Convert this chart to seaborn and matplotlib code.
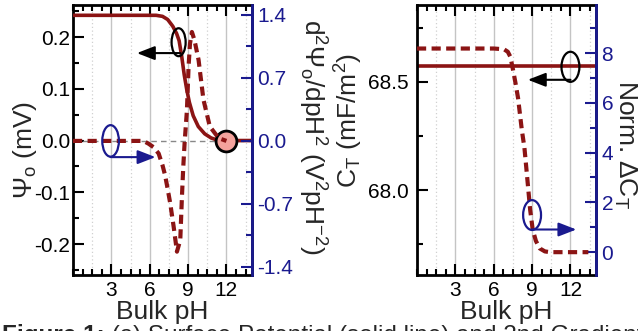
import matplotlib
matplotlib.use("Agg")
import matplotlib.pyplot as plt
import seaborn as sns
from matplotlib.patches import Ellipse
from matplotlib.ticker import MultipleLocator, FixedLocator, FormatStrFormatter

# (a) surface potential (solid) vs bulk pH
psi_ph = [0, 3, 6.5, 7.0, 7.4, 7.8, 8.1, 8.3, 8.5, 8.7, 8.9, 9.1, 9.4, 9.8, 10.3, 10.8, 11.4, 12, 14]
psi_mv = [0.242, 0.242, 0.242, 0.240, 0.234, 0.221, 0.207, 0.193, 0.163, 0.127, 0.098,
          0.074, 0.048, 0.027, 0.013, 0.005, 0.0, 0.0, 0.0]

# (a) 2nd gradient of surface potential (dashed)
d2_ph = [0, 5.5, 5.9, 6.3, 6.7, 7.0, 7.2, 7.4, 7.6, 7.87, 8.13, 8.39, 8.52, 8.62, 8.73,
         8.91, 9.04, 9.15, 9.3, 9.5, 9.82, 10.2, 10.7, 11.4, 12.0]
d2_psi = [0, 0, -0.03, -0.07, -0.14, -0.27, -0.38, -0.53, -0.69, -0.95, -1.23, -1.1, -0.62,
          -0.3, -0.02, 0.34, 0.83, 1.08, 1.21, 1.12, 0.9, 0.46, 0.16, 0.03, 0.0]

# (b) total capacitance (solid) and normalised change (dashed)
ct_ph = [0, 14]
ct_val = [68.575, 68.575]
dct_ph = [0, 6.0, 6.8, 7.1, 7.3, 7.5, 7.7, 7.9, 8.2, 8.4, 8.6, 8.85, 9.05, 9.3, 9.6, 10.0, 10.4, 13.4]
dct_val = [8.18, 8.18, 8.15, 8.05, 7.85, 7.35, 6.8, 6.2, 4.9, 4.2, 3.1, 1.7, 0.9, 0.45, 0.15,
           0.03, 0.0, 0.0]

RED = "#8b1414"
BLUE = "#1a1a8f"

sns.set_theme(style="white")
plt.rcParams["font.family"] = ["Liberation Sans", "DejaVu Sans"]
plt.rcParams["mathtext.fontset"] = "custom"
plt.rcParams["mathtext.rm"] = "Liberation Sans"
plt.rcParams["mathtext.it"] = "Liberation Sans:italic"
plt.rcParams["mathtext.default"] = "regular"
plt.rcParams["axes.unicode_minus"] = False

fig = plt.figure(figsize=(6.38, 3.31), dpi=100)
ax1 = fig.add_axes([0.1144, 0.169, 0.2806, 0.816])
ax2 = ax1.twinx()
ax3 = fig.add_axes([0.6536, 0.169, 0.2806, 0.816])
ax4 = ax3.twinx()


def style(ax, axr, lpad):
    ax.set_xlim(0, 14)
    ax.xaxis.set_major_locator(FixedLocator([3, 6, 9, 12]))
    ax.xaxis.set_minor_locator(MultipleLocator(0.75))
    ax.tick_params(which="both", direction="in", top=True, bottom=True, left=True,
                   right=False, colors="black", width=1.5, labelsize=15)
    ax.tick_params(axis="x", pad=4)
    ax.tick_params(axis="y", pad=lpad)
    ax.tick_params(which="major", length=8)
    ax.tick_params(which="minor", length=4)
    for sp in ax.spines.values():
        sp.set_linewidth(2)
        sp.set_color("black")
    axr.spines["right"].set_color(BLUE)
    axr.spines["right"].set_linewidth(2)
    for s in ["left", "top", "bottom"]:
        axr.spines[s].set_visible(False)
    axr.tick_params(which="both", direction="in", right=True, left=False, colors=BLUE,
                    width=1.5, labelsize=15, pad=4)
    axr.tick_params(which="major", length=8)
    axr.tick_params(which="minor", length=4)
    # vertical guide lines
    for x in [3, 6, 9, 12]:
        ax.axvline(x, color="#c4c4c4", lw=1, zorder=0)
    for x in [1.5, 4.5, 7.5, 10.5, 13.5]:
        ax.axvline(x, color="#d0d0d0", lw=0.9, ls=(0, (1, 2)), zorder=0)
    ax.set_xlabel("Bulk pH", fontsize=19, labelpad=0)
    ax.set_ylabel("")
    axr.set_ylabel("")


def arrow(ax, start, end, color):
    ax.annotate("", xy=end, xytext=start,
                arrowprops=dict(arrowstyle="-|>,head_length=0.9,head_width=0.35",
                                color=color, lw=1.5, shrinkA=0, shrinkB=0))


# left panel
sns.lineplot(x=psi_ph, y=psi_mv, ax=ax1, color=RED, lw=2.6, zorder=3)
ax1.axhline(0, color="#888888", lw=1, ls=(0, (4, 3)), zorder=1)
sns.lineplot(x=d2_ph, y=d2_psi, ax=ax2, color=RED, lw=3, linestyle=(0, (2.2, 1.3)))
ax1.plot([12], [0], "o", ms=15, mfc="#f4a29c", mec="black", mew=2, zorder=5, clip_on=False)
ax1.set_ylim(-0.26, 0.262)
ax1.yaxis.set_major_locator(MultipleLocator(0.1))
ax1.yaxis.set_minor_locator(MultipleLocator(0.05))
ax1.yaxis.set_major_formatter(FormatStrFormatter("%.1f"))
ax2.set_ylim(-1.49, 1.51)
ax2.yaxis.set_major_locator(FixedLocator([-1.4, -0.7, 0, 0.7, 1.4]))
ax2.yaxis.set_minor_locator(MultipleLocator(0.35))
ax2.yaxis.set_major_formatter(FormatStrFormatter("%.1f"))
style(ax1, ax2, 2)
ax2.set_zorder(ax1.get_zorder() + 1)
ax2.patch.set_visible(False)
ax1.add_patch(Ellipse((8.26, 0.19), 1.1, 0.054, fill=False, ec="black", lw=1.6, zorder=6))
arrow(ax1, (8.4, 0.169), (5.0, 0.169), "black")
ax2.add_patch(Ellipse((2.94, 0.0), 1.3, 0.35, fill=False, ec=BLUE, lw=1.6, zorder=6))
arrow(ax2, (2.94, -0.18), (6.45, -0.18), BLUE)

# right panel
sns.lineplot(x=ct_ph, y=ct_val, ax=ax3, color=RED, lw=2.6)
sns.lineplot(x=dct_ph, y=dct_val, ax=ax4, color=RED, lw=3, linestyle=(0, (2.2, 1.3)))
ax3.set_ylim(67.607, 68.856)
ax3.yaxis.set_major_locator(FixedLocator([68.0, 68.5]))
ax3.yaxis.set_minor_locator(MultipleLocator(0.25))
ax3.yaxis.set_major_formatter(FormatStrFormatter("%.1f"))
ax4.set_ylim(-0.92, 9.93)
ax4.yaxis.set_major_locator(FixedLocator([0, 2, 4, 6, 8]))
ax4.yaxis.set_minor_locator(MultipleLocator(1))
style(ax3, ax4, 6)
ax4.set_zorder(ax3.get_zorder() + 1)
ax4.patch.set_visible(False)
ax3.add_patch(Ellipse((12.0, 68.57), 1.4, 0.139, fill=False, ec="black", lw=1.6, zorder=6))
arrow(ax3, (12.0, 68.51), (8.67, 68.51), "black")
ax4.add_patch(Ellipse((9.0, 1.49), 1.4, 1.2, fill=False, ec=BLUE, lw=1.6, zorder=6))
arrow(ax4, (9.0, 0.91), (12.46, 0.91), BLUE)

# axis titles
fig.text(0.039, 0.547, "Ψ$_o$ (mV)", rotation=90, ha="center", va="center", fontsize=19)
fig.text(0.489, 0.586, "d$^2$Ψ$_o$/dpH$^2$ (V$^2$pH$^{-2}$)", rotation=270,
         ha="center", va="center", fontsize=19)
fig.text(0.547, 0.637, "C$_T$ (mF/m$^2$)", rotation=90, ha="center", va="center", fontsize=19)
fig.text(0.98, 0.565, "Norm. ΔC$_T$", rotation=270, ha="center", va="center", fontsize=19)

# caption, cut off by the bottom edge as in the source figure
cap = fig.text(0.003, 0.021, "Figure 1:", fontsize=17.5, fontweight="bold", va="top", ha="left")
ax1.annotate(" (a) Surface Potential (solid line) and 2nd Gradient (dashed line)",
             xy=(1, 0), xycoords=cap, va="bottom", ha="left", fontsize=17.5,
             annotation_clip=False)

fig.savefig("out.png", dpi=100)
